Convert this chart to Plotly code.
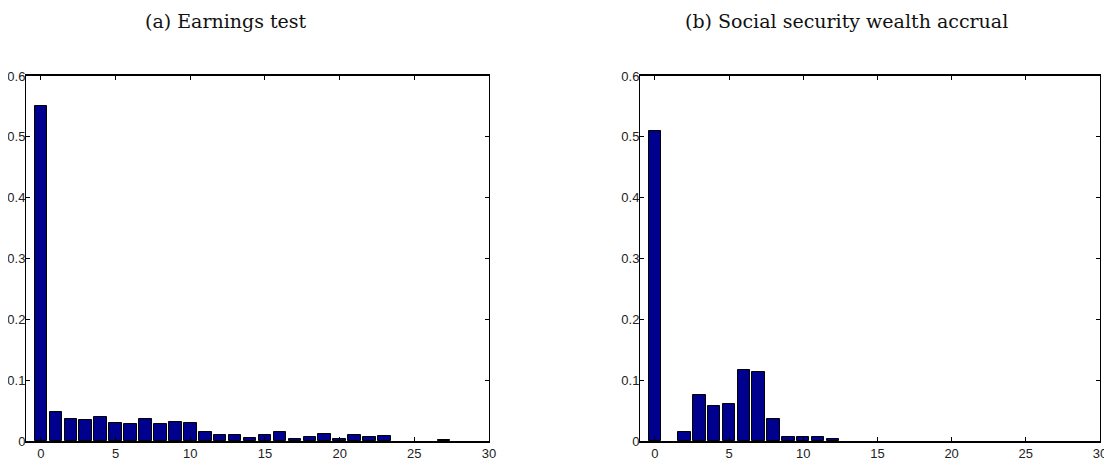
import plotly.graph_objects as go

bins = list(range(30))
earnings_test = [0.551, 0.047, 0.036, 0.035, 0.040, 0.030, 0.028, 0.036, 0.028, 0.032,
                 0.029, 0.015, 0.010, 0.010, 0.0055, 0.010, 0.014, 0.003, 0.007, 0.011,
                 0.004, 0.010, 0.007, 0.009, 0.0, 0.0, 0.0, 0.0015, 0.0, 0.0]
ss_accrual = [0.509, 0.0, 0.014, 0.075, 0.057, 0.0615, 0.116, 0.113, 0.036, 0.006,
              0.007, 0.006, 0.003, 0.0, 0.0, 0.0, 0.0, 0.0, 0.0, 0.0,
              0.0, 0.0, 0.0, 0.0, 0.0, 0.0, 0.0, 0.0, 0.0, 0.0]
titles = ["(a) Earnings test", "(b) Social security wealth accrual"]
x_ticks = [0, 5, 10, 15, 20, 25, 30]
y_ticks = [0, 0.1, 0.2, 0.3, 0.4, 0.5, 0.6]

# page body has an 8px margin; lay out in reference pixels minus that offset
OFF = 8
W, H = 1112 - OFF, 461 - OFF
bar_color = "#00008F"


def px_x(p):
    return (p - OFF) / W


def px_y(p):
    return 1 - (p - OFF) / H


def edge_widths(vals):
    return [1 if v > 0 else 0 for v in vals]


fig = go.Figure()
fig.add_trace(go.Bar(x=bins, y=earnings_test, width=0.84,
                     marker=dict(color=bar_color, line=dict(color="black", width=edge_widths(earnings_test))),
                     xaxis="x", yaxis="y", showlegend=False))
fig.add_trace(go.Bar(x=bins, y=ss_accrual, width=0.84,
                     marker=dict(color=bar_color, line=dict(color="black", width=edge_widths(ss_accrual))),
                     xaxis="x2", yaxis="y2", showlegend=False))

ax_common = dict(showgrid=False, zeroline=False, showline=True, linecolor="black", linewidth=1,
                 mirror="ticks", ticks="inside", ticklen=4, tickcolor="black", automargin=False,
                 tickfont=dict(family="Liberation Sans, Arial", size=13, color="#222"))

ydom = [px_y(441), px_y(76)]
fig.update_layout(
    template="none",
    width=W, height=H,
    margin=dict(l=0, r=0, t=0, b=0, pad=0),
    paper_bgcolor="white", plot_bgcolor="white",
    bargap=0,
    xaxis=dict(domain=[px_x(26), px_x(489)], range=[-1, 30], tickvals=x_ticks, anchor="y", **ax_common),
    yaxis=dict(domain=ydom, range=[0, 0.6], tickvals=y_ticks, anchor="x", **ax_common),
    xaxis2=dict(domain=[px_x(640), px_x(1100)], range=[-1, 30], tickvals=x_ticks, anchor="y2", **ax_common),
    yaxis2=dict(domain=ydom, range=[0, 0.6], tickvals=y_ticks, anchor="x2", **ax_common),
)
fig.update_yaxes(tickformat=".1~f", ticklabelstandoff=-3)
fig.update_xaxes(ticklabelstandoff=-1)
fig.update_layout(xaxis_linewidth=2, xaxis2_linewidth=2)

title_x = [226, 846]
for t, tx in zip(titles, title_x):
    fig.add_annotation(text=t, x=px_x(tx), y=px_y(21), xref="paper", yref="paper",
                       xanchor="center", yanchor="middle", showarrow=False,
                       font=dict(family="DejaVu Serif, Liberation Serif", size=19, color="#111"))

fig.write_html("out.html")
